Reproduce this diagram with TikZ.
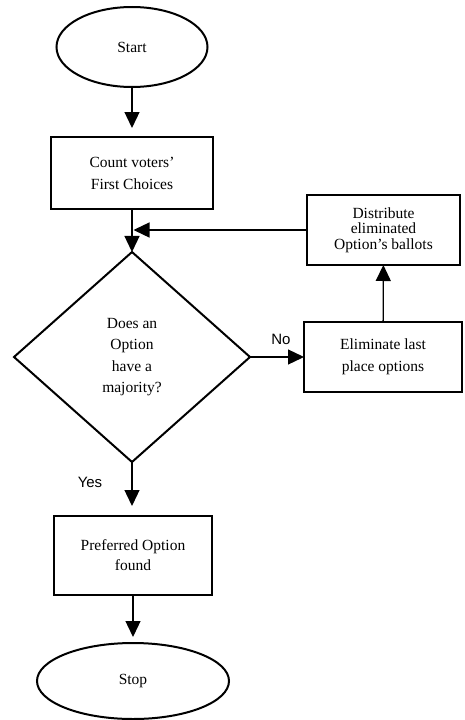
\documentclass[tikz,border=0pt]{standalone}
\usepackage{fontspec}
\setmainfont{Liberation Serif}
\newfontfamily\arialf{Liberation Sans}
\usetikzlibrary{shapes.geometric,arrows.meta}
\begin{document}
\begin{tikzpicture}[x=1pt,y=1pt,
  every node/.style={font=\fontsize{15.5}{22}\selectfont, inner sep=0pt, outer sep=0pt},
  term/.style={draw, ellipse, line width=2pt},
  proc/.style={draw, rectangle, line width=2pt, align=center},
  deci/.style={draw, diamond, line width=2pt, align=center, shape aspect=1.12},
  conn/.style={line width=1.3pt, -{Triangle[width=15pt,length=16pt]}},
  lab/.style={font=\arialf\fontsize{15}{18}\selectfont}]
\useasboundingbox (0,0) rectangle (464,-720);
\node[term, minimum width=151pt, minimum height=80pt] (start) at (132,-47) {Start};
\node[proc, minimum width=162pt, minimum height=72pt] (count) at (132,-173) {Count voters'\\First Choices};
\node[deci, minimum width=236pt, minimum height=210pt] (dec) at (132,-357)
  {Does an\\[-0.5pt]Option\\[-0.5pt]have a\\[-0.5pt]majority?};
\node[proc, minimum width=153pt, minimum height=70pt, font=\fontsize{15.5}{15.5}\selectfont] (dist) at (383.5,-230)
  {Distribute\\eliminated\\Option's ballots};
\node[proc, minimum width=158pt, minimum height=70pt] (elim) at (383,-357) {Eliminate last\\place options};
\node[proc, minimum width=158pt, minimum height=79pt, font=\fontsize{15.5}{20}\selectfont] (pref) at (133,-555.5) {Preferred Option\\found};
\node[term, minimum width=192pt, minimum height=76pt] (stop) at (133,-681) {Stop};
\coordinate (join) at (132,-230);
\draw[conn, shorten >=9pt] (start) -- (count);
\draw[conn] (count) -- (dec);
\draw[conn, shorten >=1.5pt] (dist.west) -- (dist.west -| join);
\draw[conn] (dec.east) -- (elim.west);
\draw[conn] (elim) -- (dist);
\draw[conn, shorten >=10pt] (dec.south) -- (dec.south |- pref.north);
\draw[conn, shorten >=6pt] (pref) -- (stop);
\node[lab] (no) at (281,-339) {No};
\node[lab] (yes) at (90,-482) {Yes};
\end{tikzpicture}
\end{document}
